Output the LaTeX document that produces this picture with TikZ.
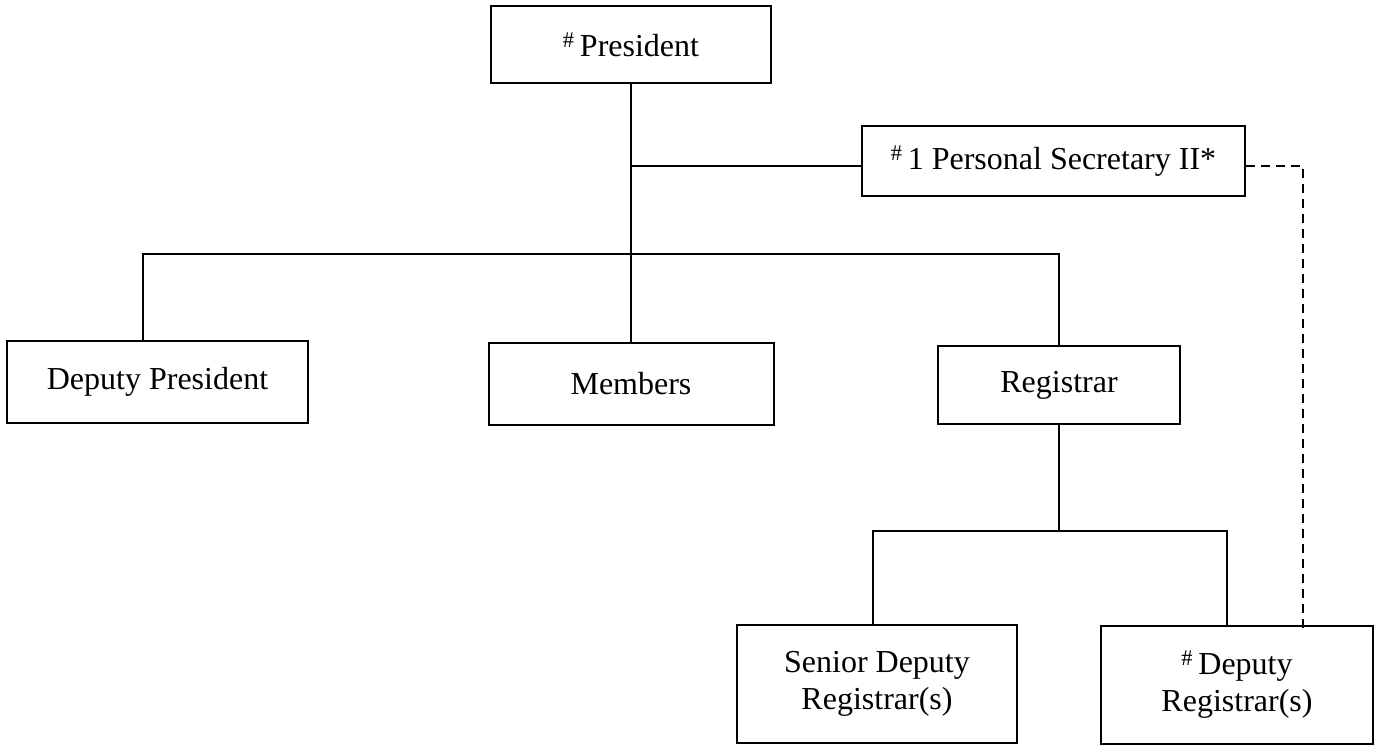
\documentclass[tikz,border=0pt]{standalone}
\usepackage{fontspec}
\setmainfont{Liberation Serif}
\begin{document}
\begin{tikzpicture}[x=1pt,y=-1pt,
  box/.style={draw,line width=2pt,inner sep=0pt,align=center,
    font=\fontsize{32}{37}\selectfont},
  conn/.style={line width=2pt},
  dconn/.style={line width=2pt,dash pattern=on 9pt off 6pt}]
\useasboundingbox (0,0) rectangle (1382,746);
\node[box,minimum width=280pt,minimum height=77pt] (pres) at (631,44.5) {\textsuperscript{\#}\,President};
\node[box,minimum width=383pt,minimum height=70pt] (ps) at (1053.5,161.5) {\textsuperscript{\#}\,1 Personal Secretary II*};
\node[box,minimum width=301pt,minimum height=82pt] (dp) at (157.5,382) {Deputy President};
\node[box,minimum width=285pt,minimum height=82pt] (mem) at (631,384) {Members};
\node[box,minimum width=242pt,minimum height=78pt] (reg) at (1059,385) {Registrar};
\node[box,minimum width=280pt,minimum height=118pt] (sen) at (877,684) {Senior Deputy\\Registrar(s)};
\node[box,minimum width=272pt,minimum height=118pt] (dr) at (1237,685) {\textsuperscript{\#}\,Deputy\\Registrar(s)};
\coordinate (jps) at (631,166);
\coordinate (tb) at (0,254);
\coordinate (lb) at (0,531);
\draw[conn] (pres.south) -- (mem.north);
\draw[conn] (jps) -- (ps.west |- jps);
\draw[conn] ([xshift=-14.5pt]dp.north) |- (reg.north |- tb) -- (reg.north);
\draw[conn] (reg.south) -- (reg.south |- lb);
\draw[conn] ([xshift=-4pt]sen.north) |- ([xshift=-10pt]dr.north |- lb) -- ([xshift=-10pt]dr.north);
\draw[dconn] (ps.east |- jps) -| ([xshift=66pt,yshift=-6pt]dr.north);
\end{tikzpicture}
\end{document}
